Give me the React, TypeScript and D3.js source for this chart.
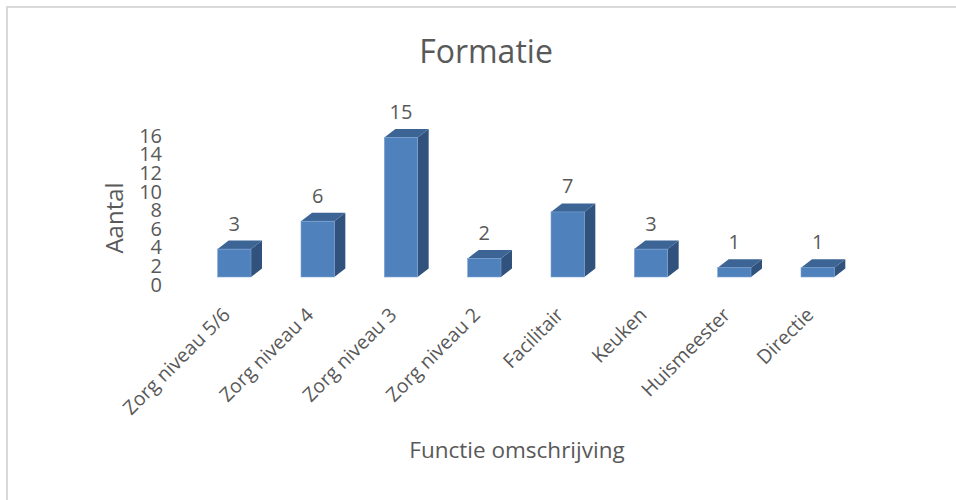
import * as d3 from "d3";

const CATEGORIES = [
  "Zorg niveau 5/6",
  "Zorg niveau 4",
  "Zorg niveau 3",
  "Zorg niveau 2",
  "Facilitair",
  "Keuken",
  "Huismeester",
  "Directie",
];
const VALUES = [3, 6, 15, 2, 7, 3, 1, 1];
const Y_TICKS = [0, 2, 4, 6, 8, 10, 12, 14, 16];

const WIDTH = 956;
const HEIGHT = 500;
const FONT = "'Open Sans', 'Liberation Sans', sans-serif";
const TEXT = "#595959";

// 3D offset of the bars
const DEPTH_X = 11;
const DEPTH_Y = 8.5;

const FRONT = "#4f81bd";
const TOP = "#3c6595";
const SIDE = "#30527d";

export default function App() {
  const xScale = d3
    .scaleBand<string>()
    .domain(CATEGORIES)
    .range([176, 876])
    .paddingInner(0.6)
    .paddingOuter(0.5);

  const yScale = d3.scaleLinear().domain([0, 16]).range([277, 128.2]);

  const bw = xScale.bandwidth();

  return (
    <svg
      width={WIDTH}
      height={HEIGHT}
      style={{ position: "absolute", left: 0, top: 0, background: "#fff" }}
    >
      {/* chart border */}
      <rect
        x={7}
        y={7}
        width={980}
        height={520}
        fill="#fff"
        stroke="#d9d9d9"
        strokeWidth={2}
      />

      <text
        x={486}
        y={63}
        textAnchor="middle"
        fontFamily={FONT}
        fontSize={32}
        fill={TEXT}
      >
        Formatie
      </text>

      {/* y axis tick labels */}
      {Y_TICKS.map((t) => (
        <text
          key={t}
          x={162}
          y={yScale(t) + 7}
          textAnchor="end"
          dominantBaseline="central"
          fontFamily={FONT}
          fontSize={20}
          fill={TEXT}
        >
          {t}
        </text>
      ))}

      <text
        transform={`translate(123, 218) rotate(-90)`}
        textAnchor="middle"
        fontFamily={FONT}
        fontSize={24}
        fill={TEXT}
      >
        Aantal
      </text>

      {/* bars */}
      {CATEGORIES.map((c, i) => {
        const x0 = xScale(c)!;
        const x1 = x0 + bw;
        const y0 = yScale(VALUES[i]);
        const yb = yScale(0);
        const top = `M${x0},${y0} L${x0 + DEPTH_X},${y0 - DEPTH_Y} L${x1 + DEPTH_X},${y0 - DEPTH_Y} L${x1},${y0} Z`;
        const side = `M${x1},${y0} L${x1 + DEPTH_X},${y0 - DEPTH_Y} L${x1 + DEPTH_X},${yb - DEPTH_Y} L${x1},${yb} Z`;
        return (
          <g key={c}>
            <path d={side} fill={SIDE} />
            <path d={top} fill={TOP} />
            <rect
              x={x0}
              y={y0}
              width={bw}
              height={yb - y0}
              fill={FRONT}
              stroke="#7fa3d3"
              strokeWidth={0.6}
            />
            <text
              x={x0 + bw / 2}
              y={y0 - DEPTH_Y - 10}
              textAnchor="middle"
              fontFamily={FONT}
              fontSize={20}
              fill={TEXT}
            >
              {VALUES[i]}
            </text>
            <text
              transform={`translate(${x0 + bw / 2 - 3}, 316) rotate(-45)`}
              textAnchor="end"
              fontFamily={FONT}
              fontSize={19.5}
              fill={TEXT}
            >
              {c}
            </text>
          </g>
        );
      })}

      <text
        x={517}
        y={458}
        textAnchor="middle"
        fontFamily={FONT}
        fontSize={22.5}
        fill={TEXT}
      >
        Functie omschrijving
      </text>
    </svg>
  );
}
